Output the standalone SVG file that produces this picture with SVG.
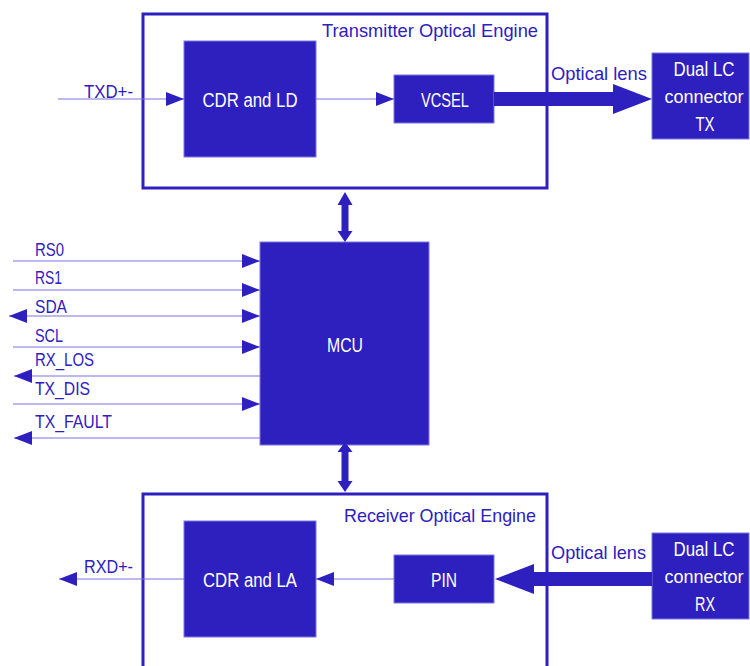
<svg xmlns="http://www.w3.org/2000/svg" width="750" height="666" viewBox="0 0 750 666">
<defs>
<style>
text{font-family:"Liberation Sans",Arial,sans-serif;font-size:19px}
.lbl{fill:#2e20bf}
.wt{fill:#ffffff;text-anchor:middle;font-size:20px}
.wt.c{font-size:18px}
.blk{fill:#2e20bf;stroke:#7b78e0;stroke-width:1}
.eng{fill:none;stroke:#2e20bf;stroke-width:3}
.sig{stroke:#7b74e0;stroke-width:1.2;fill:none}
.fat{fill:#2e20bf}
</style>
<marker id="ae" viewBox="0 0 18 14" refX="18" refY="7" markerWidth="18" markerHeight="14" markerUnits="userSpaceOnUse" orient="auto"><path d="M0,0L18,7L0,14z" fill="#2e20bf"/></marker>
<marker id="as" viewBox="0 0 18 14" refX="0" refY="7" markerWidth="18" markerHeight="14" markerUnits="userSpaceOnUse" orient="auto"><path d="M18,0L0,7L18,14z" fill="#2e20bf"/></marker>
</defs>

<g id="tx-engine">
<rect class="eng" x="143" y="14" width="404" height="174"/>
<text class="lbl" x="322" y="37" textLength="216" lengthAdjust="spacingAndGlyphs">Transmitter Optical Engine</text>
</g>
<g id="rx-engine">
<rect class="eng" x="143" y="494" width="404" height="180"/>
<text class="lbl" x="344" y="522" textLength="192" lengthAdjust="spacingAndGlyphs">Receiver Optical Engine</text>
</g>
<g id="cdr-ld">
<rect class="blk" x="184" y="41" width="132" height="116"/>
<text class="wt" x="250" y="107" textLength="95" lengthAdjust="spacingAndGlyphs">CDR and LD</text>
</g>
<g id="vcsel">
<rect class="blk" x="394" y="75" width="100" height="48"/>
<text class="wt" x="445" y="107" textLength="48" lengthAdjust="spacingAndGlyphs">VCSEL</text>
</g>
<g id="lc-tx">
<rect class="blk" x="652" y="53" width="97" height="86"/>
<text class="wt" x="704" y="76" textLength="61" lengthAdjust="spacingAndGlyphs">Dual LC</text>
<text class="wt c" x="704" y="103">connector</text>
<text class="wt" x="705" y="131" textLength="19" lengthAdjust="spacingAndGlyphs">TX</text>
</g>
<g id="mcu">
<rect class="blk" x="260" y="242" width="169" height="203"/>
<text class="wt" x="345" y="352" textLength="36" lengthAdjust="spacingAndGlyphs">MCU</text>
</g>
<g id="cdr-la">
<rect class="blk" x="184" y="521" width="132" height="116"/>
<text class="wt" x="250" y="587" textLength="94" lengthAdjust="spacingAndGlyphs">CDR and LA</text>
</g>
<g id="pin">
<rect class="blk" x="394" y="555" width="100" height="48"/>
<text class="wt" x="444" y="587" textLength="26" lengthAdjust="spacingAndGlyphs">PIN</text>
</g>
<g id="lc-rx">
<rect class="blk" x="652" y="533" width="97" height="86"/>
<text class="wt" x="704" y="556" textLength="61" lengthAdjust="spacingAndGlyphs">Dual LC</text>
<text class="wt c" x="704" y="583">connector</text>
<text class="wt" x="705" y="611" textLength="20" lengthAdjust="spacingAndGlyphs">RX</text>
</g>

<g id="connectors">
<line class="sig" x1="58" y1="99" x2="184" y2="99" marker-end="url(#ae)"/>
<line class="sig" x1="316" y1="99" x2="394" y2="99" marker-end="url(#ae)"/>
<polygon class="fat" points="494,92 613,92 613,84 652,99 613,114 613,106 494,106"/>
<polygon class="fat" points="652,572 534,572 534,564 495,579 534,594 534,586 652,586"/>
<line class="sig" x1="394" y1="579" x2="316" y2="579" marker-end="url(#ae)"/>
<line class="sig" x1="184" y1="579" x2="59" y2="579" marker-end="url(#ae)"/>
<polygon class="fat" points="345,192 352.5,205 348.5,205 348.5,231 352.5,231 345,242 337.5,231 341.5,231 341.5,205 337.5,205"/>
<polygon class="fat" points="345,442 352.5,452 348.5,452 348.5,481 352.5,481 345,492 337.5,481 341.5,481 341.5,452 337.5,452"/>
<line class="sig" x1="13" y1="261" x2="260" y2="261" marker-end="url(#ae)"/>
<line class="sig" x1="13" y1="290" x2="260" y2="290" marker-end="url(#ae)"/>
<line class="sig" x1="9" y1="316" x2="260" y2="316" marker-start="url(#as)" marker-end="url(#ae)"/>
<line class="sig" x1="13" y1="347" x2="260" y2="347" marker-end="url(#ae)"/>
<line class="sig" x1="260" y1="376" x2="14" y2="376" marker-end="url(#ae)"/>
<line class="sig" x1="13" y1="404" x2="260" y2="404" marker-end="url(#ae)"/>
<line class="sig" x1="260" y1="438" x2="14" y2="438" marker-end="url(#ae)"/>
</g>

<g id="labels">
<text class="lbl" x="84" y="98" textLength="49" lengthAdjust="spacingAndGlyphs">TXD+-</text>
<text class="lbl" x="84" y="573" textLength="49" lengthAdjust="spacingAndGlyphs">RXD+-</text>
<text class="lbl" x="551" y="80" textLength="96" lengthAdjust="spacingAndGlyphs">Optical lens</text>
<text class="lbl" x="551" y="559" textLength="95" lengthAdjust="spacingAndGlyphs">Optical lens</text>
<text class="lbl" x="35" y="256" textLength="29" lengthAdjust="spacingAndGlyphs">RS0</text>
<text class="lbl" x="35" y="284" textLength="27" lengthAdjust="spacingAndGlyphs">RS1</text>
<text class="lbl" x="35" y="313" textLength="32" lengthAdjust="spacingAndGlyphs">SDA</text>
<text class="lbl" x="35" y="342" textLength="28" lengthAdjust="spacingAndGlyphs">SCL</text>
<text class="lbl" x="35" y="366" textLength="59" lengthAdjust="spacingAndGlyphs">RX_LOS</text>
<text class="lbl" x="35" y="395" textLength="55" lengthAdjust="spacingAndGlyphs">TX_DIS</text>
<text class="lbl" x="35" y="428" textLength="77" lengthAdjust="spacingAndGlyphs">TX_FAULT</text>
</g>
</svg>
